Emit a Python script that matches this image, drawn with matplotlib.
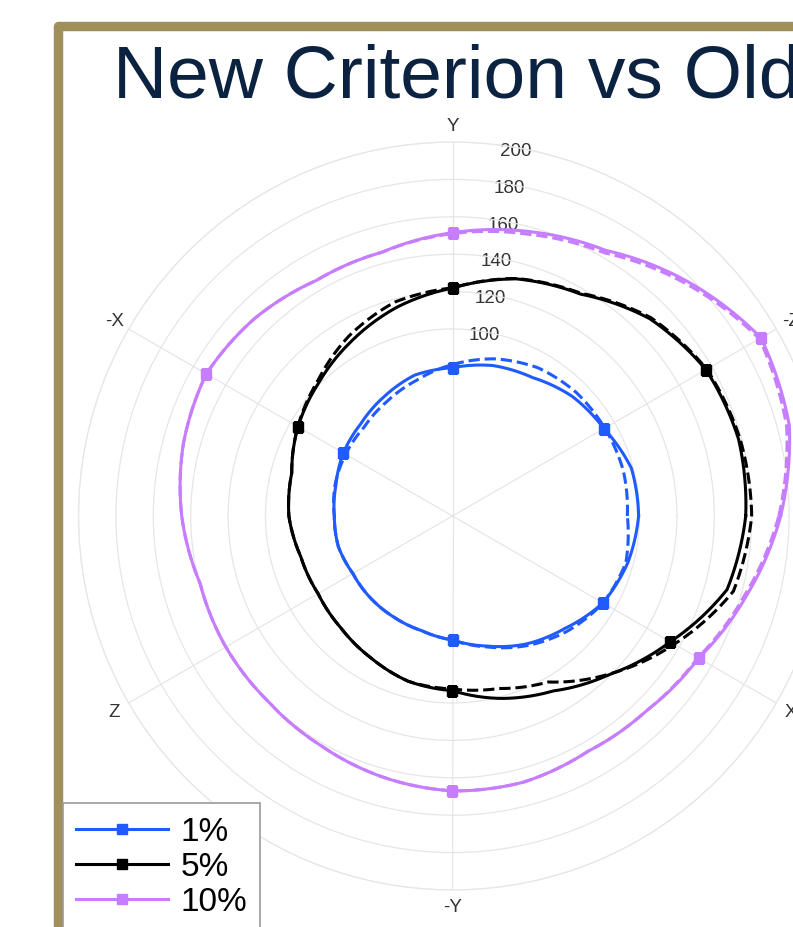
import numpy as np
import matplotlib
matplotlib.use("Agg")
import matplotlib.pyplot as plt
from matplotlib import font_manager as fm
from matplotlib.patches import Rectangle
from matplotlib.legend_handler import HandlerTuple

# ---------------- data ----------------
theta_deg = [0, 15, 30, 45, 60, 75, 90, 105, 120, 135, 150, 165,
             180, 195, 210, 225, 240, 255, 270, 285, 300, 315, 330, 345]

new_1 = [99.5, 99.0, 93.5, 90.5, 85.5, 83.3, 79.3, 78.0, 73.5, 69.5, 67.4, 64.5,
         63.2, 63.2, 61.5, 62.0, 62.5, 63.5, 66.3, 72.0, 79.0, 85.0, 92.9, 97.0]
old_1 = [93.5, 94.5, 94.0, 93.5, 91.5, 87.0, 81.0, 75.0, 70.5, 67.0, 66.0, 65.0,
         63.2, 63.2, 61.5, 62.0, 62.5, 63.5, 66.3, 72.5, 80.0, 87.0, 93.0, 96.0]

new_5 = [156.8, 158.4, 156.5, 149.2, 137.0, 131.3, 121.9, 115.5, 108.0, 101.0, 95.4, 89.0,
         87.5, 84.0, 83.0, 84.5, 87.5, 91.5, 93.4, 101.0, 108.0, 119.5, 134.5, 152.0]
old_5 = [160.0, 159.2, 157.0, 150.0, 137.5, 131.5, 122.0, 118.5, 111.0, 102.0, 95.5, 89.0,
         87.5, 84.0, 83.0, 84.5, 87.5, 91.5, 92.5, 95.5, 102.5, 119.3, 137.0, 155.5]

new_10 = [175.5, 186.5, 190.5, 177.5, 164.0, 157.5, 151.5, 146.0, 145.5, 149.5, 152.0, 149.0,
          144.8, 139.7, 140.0, 139.8, 141.5, 144.5, 147.0, 147.3, 145.2, 147.0, 152.0, 163.0]
old_10 = [174.5, 185.0, 189.5, 176.0, 162.5, 156.0, 151.0, 146.0, 145.5, 149.5, 152.0, 149.0,
          144.8, 139.7, 140.0, 139.8, 141.5, 144.5, 147.0, 147.3, 145.2, 147.0, 151.5, 162.0]

series_labels = ["1%", "5%", "10%"]
marker_angles = [30, 90, 150, 270, 330]

theta_ticks = [30, 90, 150, 210, 270, 330]
theta_labels = ["-Z", "Y", "-X", "Z", "-Y", "X"]
r_ticks = [100, 120, 140, 160, 180, 200]
r_max = 200

title_text = "New Criterion vs Old"

# ---------------- style ----------------
colors = ["#1f5bff", "#000000", "#c77dff"]
gold = "#a08f5a"
grid_col = "#e6e6e6"

names = {f.name for f in fm.fontManager.ttflist}
base_font = "Liberation Sans" if "Liberation Sans" in names else "DejaVu Sans"
narrow = [n for n in ("Liberation Sans Narrow", "Arial Narrow") if n in names]
legend_font = narrow[0] if narrow else base_font
legend_size = 27 if narrow else 24
plt.rcParams["font.family"] = [base_font, "DejaVu Sans"]

W, H = 793, 928
fig = plt.figure(figsize=(W / 100, H / 100), dpi=100)
fig.patch.set_facecolor("white")

# slide border
border = Rectangle((58 / W, -0.2), 2.0, 1.2 - 27 / H, transform=fig.transFigure,
                   fill=False, edgecolor=gold, linewidth=6.8, joinstyle="round",
                   clip_on=False, zorder=0)
fig.patches.append(border)

# title
fig.text(113 / W, 1 - 98 / H, title_text, fontsize=54, color="#0b2340",
         va="baseline", ha="left", family=[base_font, "DejaVu Sans"])

# polar axes: centre (452.5, 517) px, radius 374 px
cx, cy, R = 452.5, 517, 374
ax = fig.add_axes([(cx - R) / W, (H - cy - R) / H, 2 * R / W, 2 * R / H],
                  projection="polar")
ax.set_facecolor("none")
ax.set_theta_zero_location("E")
ax.set_theta_direction(1)
ax.set_ylim(0, r_max)
ax.set_yticks(r_ticks)
ax.set_yticklabels([])
ax.set_thetagrids(theta_ticks, theta_labels)
ax.tick_params(axis="x", pad=1.5, labelsize=13.5, labelcolor="#333333")
ax.grid(True, color=grid_col, linewidth=0.9)
ax.spines["polar"].set_color(grid_col)
ax.spines["polar"].set_linewidth(0.9)

for r in r_ticks:
    ax.text(np.deg2rad(80.2), r - 1.6, str(r), ha="center", va="center",
            fontsize=13.5, color="#333333", zorder=1)

th = np.deg2rad(np.array(theta_deg + [360]))
mark_idx = [theta_deg.index(a) for a in marker_angles]

handles = []
for new, old, col, lab in zip([new_1, new_5, new_10], [old_1, old_5, old_10],
                              colors, series_labels):
    dl, = ax.plot(th, list(old) + [old[0]], color=col, linewidth=2.2,
                  linestyle="--", zorder=3)
    sl, = ax.plot(th, list(new) + [new[0]], color=col, linewidth=2.2, zorder=4)
    # let the polar transform draw each segment as a smooth curve
    dl.get_path()._interpolation_steps = 30
    sl.get_path()._interpolation_steps = 30
    mk, = ax.plot(th[mark_idx], np.array(new)[mark_idx], linestyle="none",
                  marker="s", markersize=7, color=col, zorder=5)
    handles.append((sl, mk))

fs_px = legend_size * 100 / 72
leg = fig.legend(handles=handles, labels=series_labels, loc="upper left",
                 bbox_to_anchor=(63 / W, 1 - 804 / H), borderaxespad=0,
                 prop={"family": legend_font, "size": legend_size}, frameon=True,
                 fancybox=False, framealpha=1, edgecolor="#9a9a9a",
                 handlelength=92 / fs_px, handletextpad=12 / fs_px,
                 labelspacing=0.12, borderpad=0.4, numpoints=1,
                 handler_map={tuple: HandlerTuple(ndivide=1)})
leg.get_frame().set_linewidth(1.2)

fig.savefig("out.png", dpi=100)
